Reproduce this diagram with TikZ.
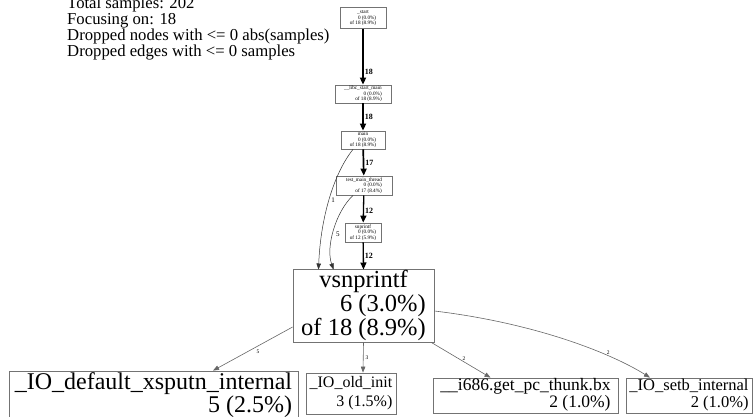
\documentclass[tikz,border=0pt]{standalone}
\usepackage{fontspec}
\setmainfont{Liberation Serif}
\usetikzlibrary{arrows.meta}
% node label: name centred, counts right-aligned
\newcommand\gvlabel[2]{\begin{tabular}{@{}r@{}}\multicolumn{1}{@{}c@{}}{#1}\\#2\end{tabular}}

\begin{document}
\begin{tikzpicture}[x=1pt,y=-1pt,
  gvbox/.style={draw=black!55, line width=0.8pt, inner sep=0pt, align=center},
  smallbox/.style={gvbox, font=\fontsize{5.2}{5.6}\selectfont},
  hotedge/.style={draw=black, -{Triangle[length=7pt,width=6pt]}},
  thinedge/.style={draw=black!80, line width=0.5pt, -{Triangle[length=6pt,width=4.5pt]}},
  coldedge/.style={draw=black!60, line width=0.6pt, -{Triangle[length=6pt,width=4.5pt]}},
  hotlbl/.style={font=\fontsize{8}{8}\selectfont\bfseries, inner sep=1pt, anchor=west},
  coldlbl/.style={font=\fontsize{5.5}{5.5}\selectfont, inner sep=1pt},
]
\useasboundingbox (0,0) rectangle (756,417);

% legend
\node[anchor=north west, align=left, inner sep=0pt,
      font=\fontsize{16.7}{16}\selectfont] (legend) at (67,-3)
  {Total samples: 202\\Focusing on: 18\\Dropped nodes with <= 0 abs(samples)\\Dropped edges with <= 0 samples};

% call chain
\node[smallbox, minimum width=46, minimum height=21] (start) at (363,18)
  {\gvlabel{\_start}{0 (0.0\%)\\of 18 (8.9\%)}};
\node[smallbox, minimum width=56, minimum height=18] (libc) at (363,94)
  {\gvlabel{\_\_libc\_start\_main}{0 (0.0\%)\\of 18 (8.9\%)}};
\node[smallbox, minimum width=44, minimum height=18] (main) at (363,140)
  {\gvlabel{main}{0 (0.0\%)\\of 18 (8.9\%)}};
\node[smallbox, minimum width=56, minimum height=19] (tmt) at (364,185.5)
  {\gvlabel{test\_main\_thread}{0 (0.0\%)\\of 17 (8.4\%)}};
\node[smallbox, minimum width=36, minimum height=19] (snp) at (363,232.5)
  {\gvlabel{snprintf}{0 (0.0\%)\\of 12 (5.9\%)}};

\node[gvbox, minimum width=141, minimum height=72,
      font=\fontsize{24.5}{23}\selectfont] (vs) at (363.5,306)
  {\gvlabel{vsnprintf}{6 (3.0\%)\\of 18 (8.9\%)}};

% callees
\node[gvbox, minimum width=289, minimum height=50,
      font=\fontsize{24}{22}\selectfont] (xs) at (153.5,396)
  {\gvlabel{\_IO\_default\_xsputn\_internal}{5 (2.5\%)}};
\node[gvbox, minimum width=90, minimum height=41,
      font=\fontsize{16}{19}\selectfont] (oi) at (351,393.5)
  {\gvlabel{\_IO\_old\_init}{3 (1.5\%)}};
\node[gvbox, minimum width=185, minimum height=35,
      font=\fontsize{17.5}{17}\selectfont] (th) at (525.5,395.5)
  {\gvlabel{\_\_i686.get\_pc\_thunk.bx}{2 (1.0\%)}};
\node[gvbox, minimum width=126, minimum height=35,
      font=\fontsize{16.5}{17}\selectfont] (sb) at (689,395.5)
  {\gvlabel{\_IO\_setb\_internal}{2 (1.0\%)}};

% heavy edges along the chain
\draw[hotedge, line width=1.8pt] (start) -- node[hotlbl, pos=0.77] {18} (libc);
\draw[hotedge, line width=1.8pt] (libc) -- node[hotlbl, pos=0.5] {18} (main);
\draw[hotedge, line width=1.7pt] (main) -- node[hotlbl, pos=0.5] {17} (tmt);
\draw[hotedge, line width=1.3pt] (tmt) -- node[hotlbl, pos=0.57] {12} (snp);
\draw[hotedge, line width=1.3pt] (snp) -- node[hotlbl, pos=0.5] {12} (vs.north);

% light edges into vsnprintf
\draw[thinedge] ([xshift=-10pt]main.south) .. controls +(-20,25) and +(2,-50) ..
  node[coldlbl, pos=0.5, right=1pt, font=\fontsize{7}{7}\selectfont] {1} ([xshift=-45pt]vs.north);
\draw[thinedge] ([xshift=-11pt]tmt.south) .. controls +(-17,16) and +(-8,-23) ..
  node[coldlbl, pos=0.55, right=2pt, font=\fontsize{7}{7}\selectfont] {5} ([xshift=-30pt]vs.north);

% edges out of vsnprintf
\draw[coldedge] ([yshift=-21pt]vs.west) -- node[coldlbl, pos=0.48, below right=1pt] {5} ([xshift=59.5pt]xs.north);
\draw[coldedge] (vs.south) -- node[coldlbl, pos=0.5, right=1pt] {3} ([xshift=12pt]oi.north);
\draw[coldedge] ([xshift=-3pt]vs.south east) -- node[coldlbl, pos=0.55, above=0pt] {2} ([xshift=-35pt]th.north);
\draw[coldedge] ([yshift=-5pt]vs.east) .. controls +(100,12) and +(-40,-25) ..
  node[coldlbl, pos=0.72, above=0pt] {2} ([xshift=-39pt]sb.north);
\end{tikzpicture}
\end{document}
